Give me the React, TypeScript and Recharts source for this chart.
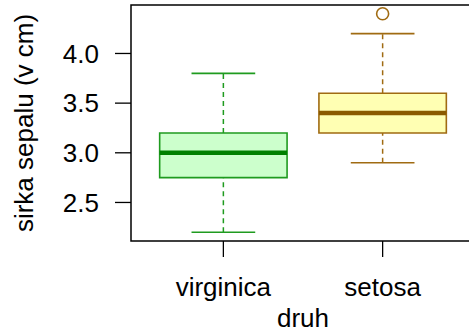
import React from 'react';
import {
  ComposedChart,
  XAxis,
  YAxis,
  ReferenceArea,
  ReferenceLine,
  Scatter,
} from 'recharts';

// box plot stats
const species = ['virginica', 'setosa'];
const whiskerLow = [2.2, 2.9];
const lowerHinge = [2.75, 3.2];
const medians = [3.0, 3.4];
const upperHinge = [3.2, 3.6];
const whiskerHigh = [3.8, 4.2];
const outlierValues = [[], [4.4]];
const yTicks = [2.5, 3.0, 3.5, 4.0];

const fills = ['#ccffcc', '#ffffb3'];
const borders = ['#1f9b1f', '#a06b12'];
const medianColors = ['#008000', '#8b5a00'];

const FONT = '"Liberation Sans", Arial, sans-serif';
const FS = 26;
const boxHalf = 0.4;
const stapleHalf = 0.2;

// R style 4% padding of the ranges
const allVals = [...whiskerLow, ...whiskerHigh, ...outlierValues.flat()];
const yMin = Math.min(...allVals);
const yMax = Math.max(...allVals);
const yPad = (yMax - yMin) * 0.04;
const yDomain: [number, number] = [yMin - yPad, yMax + yPad];
const xPad = species.length * 0.04;
const xDomain: [number, number] = [0.5 - xPad, species.length + 0.5 + xPad];

const outlierData = outlierValues.flatMap((vals, i) =>
  vals.map((v) => ({ x: i + 1, y: v, color: borders[i] }))
);

const OutlierDot = (props: any) => {
  const { cx, cy, payload } = props;
  return <circle cx={cx} cy={cy} r={6} fill="none" stroke={payload.color} strokeWidth={1.6} />;
};

const App: React.FC = () => {
  return (
    <div
      style={{
        position: 'absolute',
        left: 0,
        top: 0,
        width: 469,
        height: 333,
        overflow: 'hidden',
        background: '#fff',
        fontFamily: FONT,
      }}
    >
      <ComposedChart width={480} height={333} margin={{ top: 5, right: 5, bottom: 0, left: 0 }}>
        <XAxis
          type="number"
          dataKey="x"
          domain={xDomain}
          ticks={species.map((_, i) => i + 1)}
          tickFormatter={(v: number) => species[v - 1] ?? ''}
          interval={0}
          allowDataOverflow
          height={92}
          axisLine={false}
          tickSize={16}
          tickMargin={21}
          tickLine={{ stroke: '#000', strokeWidth: 1.3 }}
          tick={{ fontSize: FS, fill: '#000', fontFamily: FONT }}
          label={{
            content: () => (
              <text x={303} y={327} textAnchor="middle" fontSize={FS} fill="#000" fontFamily={FONT}>
                druh
              </text>
            ),
          }}
        />
        <YAxis
          type="number"
          domain={yDomain}
          ticks={yTicks}
          interval={0}
          allowDataOverflow
          width={131}
          axisLine={false}
          tickSize={16}
          tickMargin={16}
          tickLine={{ stroke: '#000', strokeWidth: 1.3 }}
          tickFormatter={(v: number) => v.toFixed(1)}
          tick={{ fontSize: FS, fill: '#000', fontFamily: FONT }}
          label={{
            content: () => (
              <text
                x={33}
                y={123}
                transform="rotate(-90 33 123)"
                textAnchor="middle"
                fontSize={FS}
                fill="#000"
                fontFamily={FONT}
              >
                sirka sepalu (v cm)
              </text>
            ),
          }}
        />

        {species.map((s, i) => (
          <React.Fragment key={s}>
            <ReferenceLine
              segment={[{ x: i + 1, y: upperHinge[i] }, { x: i + 1, y: whiskerHigh[i] }]}
              stroke={borders[i]}
              strokeWidth={1.5}
              strokeDasharray="5 4"
            />
            <ReferenceLine
              segment={[{ x: i + 1, y: whiskerLow[i] }, { x: i + 1, y: lowerHinge[i] }]}
              stroke={borders[i]}
              strokeWidth={1.5}
              strokeDasharray="5 4"
            />
            <ReferenceLine
              segment={[{ x: i + 1 - stapleHalf, y: whiskerHigh[i] }, { x: i + 1 + stapleHalf, y: whiskerHigh[i] }]}
              stroke={borders[i]}
              strokeWidth={1.6}
            />
            <ReferenceLine
              segment={[{ x: i + 1 - stapleHalf, y: whiskerLow[i] }, { x: i + 1 + stapleHalf, y: whiskerLow[i] }]}
              stroke={borders[i]}
              strokeWidth={1.6}
            />
            <ReferenceArea
              x1={i + 1 - boxHalf}
              x2={i + 1 + boxHalf}
              y1={lowerHinge[i]}
              y2={upperHinge[i]}
              fill={fills[i]}
              fillOpacity={1}
              stroke={borders[i]}
              strokeWidth={1.6}
            />
            <ReferenceLine
              segment={[{ x: i + 1 - boxHalf, y: medians[i] }, { x: i + 1 + boxHalf, y: medians[i] }]}
              stroke={medianColors[i]}
              strokeWidth={4.5}
            />
          </React.Fragment>
        ))}

        {/* plot frame */}
        <ReferenceArea
          x1={xDomain[0]}
          x2={xDomain[1]}
          y1={yDomain[0]}
          y2={yDomain[1]}
          fill="none"
          stroke="#000"
          strokeWidth={1.5}
          ifOverflow="visible"
        />

        <Scatter data={outlierData} dataKey="y" shape={OutlierDot} isAnimationActive={false} />
      </ComposedChart>
    </div>
  );
};

export default App;
